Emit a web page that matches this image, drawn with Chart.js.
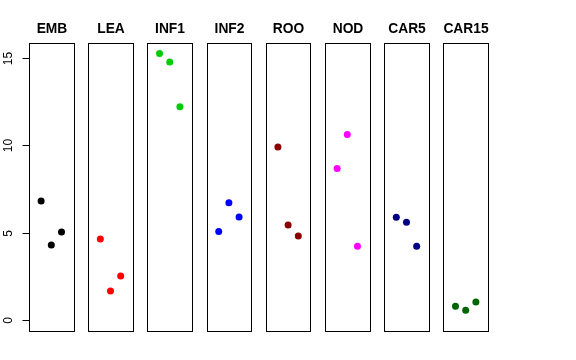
<!DOCTYPE html>
<html>
<head>
<meta charset="utf-8">
<script src="https://cdn.jsdelivr.net/npm/chart.js@4"></script>
<style>
  html, body { margin: 0; padding: 0; background: #fff; }
  #wrap { width: 576px; height: 360px; }
</style>
</head>
<body>
<div id="wrap"><canvas id="chart"></canvas></div>
<script>
// panel names and colours
const categories = ["EMB", "LEA", "INF1", "INF2", "ROO", "NOD", "CAR5", "CAR15"];
const colors = ["#000000", "#FF0000", "#00CD00", "#0000FF", "#8B0000", "#FF00FF", "#000080", "#006400"];

// three values per panel
const emb = [6.82, 4.30, 5.04];
const lea = [4.64, 1.66, 2.52];
const inf1 = [15.26, 14.77, 12.21];
const inf2 = [5.06, 6.72, 5.90];
const roo = [9.90, 5.44, 4.81];
const nod = [8.67, 10.62, 4.22];
const car5 = [5.88, 5.60, 4.22];
const car15 = [0.78, 0.56, 1.03];
const series = [emb, lea, inf1, inf2, roo, nod, car5, car15];

const yTicks = [0, 5, 10, 15];

// each panel is its own little x range on one shared axis
const STEP = 5.81;
const PAD = 1.19;

const datasets = series.map((vals, i) => ({
  label: categories[i],
  data: vals.map((v, j) => ({ x: i * STEP + j + 1, y: v })),
  backgroundColor: colors[i],
  borderColor: colors[i],
  pointRadius: 3.5,
  pointHoverRadius: 3.5,
  borderWidth: 0,
}));

const panels = {
  id: "panels",
  beforeDatasetsDraw(chart) {
    const { ctx, scales: { x, y } } = chart;
    const top = Math.round(y.getPixelForValue(y.max)) + 0.5;
    const bottom = Math.round(y.getPixelForValue(y.min)) + 0.5;
    ctx.save();
    ctx.strokeStyle = "#000";
    ctx.lineWidth = 1;
    ctx.fillStyle = "#000";
    ctx.font = "bold 13.8px 'Liberation Sans', Arial, sans-serif";
    ctx.textAlign = "center";
    ctx.textBaseline = "middle";
    categories.forEach((name, i) => {
      const l = Math.round(x.getPixelForValue(i * STEP + 1 - PAD)) + 0.5;
      const r = Math.round(x.getPixelForValue(i * STEP + 3 + PAD)) + 0.5;
      ctx.strokeRect(l, top, r - l, bottom - top);
      ctx.fillText(name, (l + r) / 2, 29);
    });

    // left axis with rotated labels
    const ax = Math.round(x.getPixelForValue(1 - PAD)) + 0.5;
    const y0 = Math.round(y.getPixelForValue(yTicks[0])) + 0.5;
    const y1 = Math.round(y.getPixelForValue(yTicks[yTicks.length - 1])) + 0.5;
    ctx.beginPath();
    ctx.moveTo(ax, y0);
    ctx.lineTo(ax, y1);
    ctx.stroke();
    ctx.font = "12px 'Liberation Sans', Arial, sans-serif";
    yTicks.forEach((t) => {
      const py = Math.round(y.getPixelForValue(t)) + 0.5;
      ctx.beginPath();
      ctx.moveTo(ax, py);
      ctx.lineTo(ax - 7, py);
      ctx.stroke();
      ctx.save();
      ctx.translate(9, py);
      ctx.rotate(-Math.PI / 2);
      ctx.fillText(String(t), 0, 0);
      ctx.restore();
    });
    ctx.restore();
  },
};

new Chart(document.getElementById("chart"), {
  type: "scatter",
  data: { datasets },
  options: {
    responsive: true,
    maintainAspectRatio: false,
    animation: false,
    layout: { padding: { left: 29, right: 88, top: 43, bottom: 29 } },
    plugins: {
      legend: { display: false },
      tooltip: { enabled: false },
    },
    scales: {
      x: { type: "linear", display: false, min: 1 - PAD, max: 7 * STEP + 3 + PAD },
      y: { type: "linear", display: false, min: -0.63, max: 15.86 },
    },
  },
  plugins: [panels],
});
</script>
</body>
</html>
